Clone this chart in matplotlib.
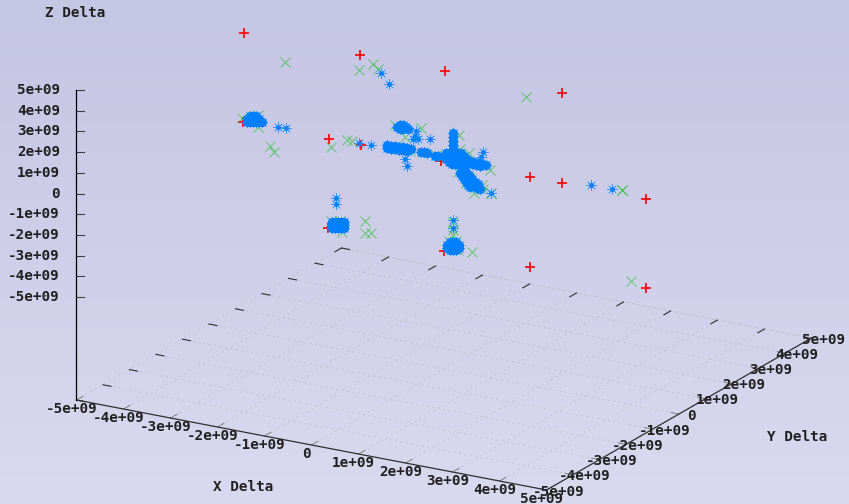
import numpy as np
import matplotlib
matplotlib.use("Agg")
import matplotlib.pyplot as plt

# All deltas are in units of 1e9. One view cannot give the depth of a point,
# so every point is read off at Y Delta = 0.
depth = 0.0

red_x = [-4.26, -1.79, 0.02, 2.51, -2.45, -1.77, 1.83, 2.51, 4.30, 1.83, 4.30,
         -4.28, -2.47, 0.00, -0.06]
red_z = [4.41, 4.42, 4.43, 4.45, 0.07, 0.08, 0.10, 0.10, 0.11, -4.25, -4.19,
         0.10, -4.24, -4.28, 0.04]

green_x = [-3.38, -1.81, -1.51, -1.40, 1.75, -3.70, -3.62, -2.40, -2.06, -1.96,
           3.79, 3.79, 3.98, -1.68, -1.68, -1.55, -2.17, 0.60, -1.04, -0.49,
           -0.83, 0.19, 0.19, 0.19, 1.00, 1.00, -3.96, -4.30, -3.96, 0.53, 0.34,
           0.30, -2.40, -2.21, 0.11, 0.26, 0.30, -0.72, -0.98, -0.45, -0.17,
           0.55, 0.81, 0.47, 0.64, 0.83, 0.98, 0.32]
green_z = [3.39, 3.68, 4.10, 3.91, 3.92, -0.81, -1.07, -0.29, 0.19, 0.19,
           0.32, 0.32, -4.00, -3.56, -4.14, -4.08, -4.30, -4.06, 1.36, 1.45,
           0.87, -2.79, -3.18, -3.42, -1.04, -1.04, 0.57, 0.28, 0.00, 0.69, 0.80,
           -0.33, -3.87, -3.79, -3.74, -3.68, -4.10, 0.24, 0.23, 0.31, 0.29,
           -0.51, -0.73, -0.79, -1.20, -0.92, 0.06, 1.47]

# Points that stand on their own
blue_lone_x = [-3.53, -3.36, -1.34, -1.17, -1.81, -1.55, -0.30, -0.60, -0.62, -0.66, -0.55,
               -0.83, -0.79, -2.30, -2.30, 0.83, 0.79, 1.00, 3.13, 3.57, 0.19, 0.19]
blue_lone_z = [0.18, 0.20, 3.74, 3.29, 0.15, 0.17, 1.00, 1.26, 1.01, 0.85, 0.89,
               -0.19, -0.51, -2.71, -3.00, 0.87, 0.61, -1.04, 0.28, 0.28, -2.70, -3.08]

# Points that pile up into solid patches
blue_x = [
    # cluster upper left
    -4.13, -4.06, -4.00,
    -4.19, -4.13, -4.06, -4.00, -3.94,
    -4.19, -4.13, -4.06, -4.00, -3.94, -3.87,
    # cluster lower left
    -2.38, -2.32, -2.26, -2.19, -2.13,
    -2.38, -2.32, -2.26, -2.19, -2.13,
    -2.38, -2.32, -2.26, -2.19, -2.13,
    # cluster lower middle
    0.13, 0.19, 0.26,
    0.06, 0.13, 0.19, 0.26, 0.32,
    0.06, 0.13, 0.19, 0.26, 0.32,
    0.13, 0.19, 0.26,
    # small cluster above the arm
    -1.00, -0.94, -0.87, -0.81, -0.94, -0.87, -0.77,
    # left arm
    -1.21, -1.21, -1.13, -1.13, -1.04, -1.04, -0.96, -0.96, -0.87, -0.87,
    -0.79, -0.79, -0.70, -0.49, -0.43, -0.36, -0.19, -0.13,
    # central body
    0.04, 0.11, 0.17, 0.23, 0.30, 0.36,
    0.04, 0.11, 0.17, 0.23, 0.30, 0.36, 0.43,
    0.04, 0.11, 0.17, 0.23, 0.30, 0.36, 0.43, 0.49,
    0.11, 0.17, 0.23, 0.30, 0.36, 0.43, 0.49,
    0.17, 0.23, 0.30, 0.36, 0.43,
    # upward arm
    0.19, 0.19, 0.19, 0.19, 0.19,
    # right arm
    0.55, 0.64, 0.72, 0.81, 0.89, 0.60, 0.68, 0.77,
    # lower arm
    0.38, 0.43, 0.47, 0.51, 0.55, 0.60, 0.64, 0.70, 0.77, 0.64, 0.70,
    0.45, 0.53, 0.60, 0.66, 0.72, 0.34, 0.38, 0.43, 0.47, 0.51, 0.55,
]
blue_z = [
    0.45, 0.48, 0.51,
    0.28, 0.31, 0.33, 0.36, 0.39,
    0.14, 0.16, 0.19, 0.22, 0.25, 0.27,
    -3.91, -3.88, -3.86, -3.83, -3.80,
    -4.05, -4.03, -4.00, -3.97, -3.94,
    -4.20, -4.17, -4.14, -4.12, -4.09,
    -3.79, -3.76, -3.73,
    -3.96, -3.93, -3.90, -3.87, -3.85,
    -4.10, -4.08, -4.05, -4.02, -3.99,
    -4.17, -4.14, -4.12,
    1.28, 1.41, 1.43, 1.36, 1.21, 1.24, 1.29,
    0.32, 0.17, 0.31, 0.16, 0.34, 0.20, 0.33, 0.19, 0.37, 0.22,
    0.36, 0.21, 0.35, 0.29, 0.32, 0.30, 0.23, 0.26,
    0.48, 0.51, 0.53, 0.56, 0.59, 0.62,
    0.33, 0.36, 0.39, 0.42, 0.44, 0.47, 0.50,
    0.19, 0.22, 0.24, 0.27, 0.30, 0.33, 0.35, 0.38,
    0.07, 0.10, 0.13, 0.15, 0.18, 0.21, 0.24,
    0.00, 0.03, 0.06, 0.09, 0.11,
    1.51, 1.31, 1.12, 0.93, 0.73,
    0.31, 0.30, 0.29, 0.28, 0.27, 0.19, 0.17, 0.16,
    -0.20, -0.32, -0.45, -0.57, -0.70, -0.78, -0.86, -0.93, -0.95, -0.71, -0.78,
    -0.17, -0.37, -0.54, -0.66, -0.72, -0.36, -0.49, -0.61, -0.74, -0.86, -0.94,
]

ticks = [-5, -4, -3, -2, -1, 0, 1, 2, 3, 4, 5]
tick_labels = ["-5e+09", "-4e+09", "-3e+09", "-2e+09", "-1e+09", "0",
               "1e+09", "2e+09", "3e+09", "4e+09", "5e+09"]


# Fixed gnuplot style view, returns canvas pixels
def project(x, y, z):
    x, y, z = np.asarray(x, float), np.asarray(y, float), np.asarray(z, float)
    sx = 76.5 + 47.0*(x + 5) + 26.5*(y + 5)
    sy = 297.0 + 9.0*(x + 5) - 15.2*(y + 5) - 20.7*(z + 5)
    return sx, sy


# The floor sits below z = -5
def floor(x, y):
    sx, sy = project(x, y, -5)
    return sx, sy + 103


fig = plt.figure(figsize=(8.49, 5.04), dpi=100)
ax = fig.add_axes([0, 0, 1, 1])
ax.set_xlim(0, 849)
ax.set_ylim(504, 0)
ax.axis("off")

# Background gradient
shade = np.linspace(0, 1, 256).reshape(-1, 1)
top, bottom = np.array([197, 197, 228]), np.array([217, 217, 239])
bg = (top + (bottom - top)*shade[..., None])/255
ax.imshow(bg, extent=(0, 849, 504, 0), aspect="auto", zorder=0)

grid_style = dict(color="#a8a8a8", lw=0.6, ls=(0, (1.5, 5)), alpha=0.7, zorder=1)
tick_style = dict(color="#303030", lw=0.8, zorder=2)
text_style = dict(family="DejaVu Sans Mono", weight="bold", fontsize=10.3,
                  ha="center", va="center", color="#202020", zorder=6)

# Floor grid and its ticks
for t in ticks:
    px, py = floor([t, t], [-5, 5])
    if t > -5:
        ax.plot(px, py, **grid_style)
    px, py = floor([-5, 5], [t, t])
    if t > -5:
        ax.plot(px, py, **grid_style)

    # front x ticks, back x ticks
    px, py = floor([t, t], [-5, -4.75])
    ax.plot(px, py, color="#777777", lw=0.6, zorder=2)
    px, py = floor([t, t], [4.75, 5])
    ax.plot(px, py, **tick_style)
    # left y ticks, right y ticks
    px, py = floor([-5, -4.83], [t, t])
    ax.plot(px, py, **tick_style)
    px, py = floor([4.83, 5], [t, t])
    ax.plot(px, py, color="#777777", lw=0.6, zorder=2)

    # Tick labels
    px, py = floor(t, -5)
    ax.text(px - 5, py + 9, tick_labels[t + 5], **text_style)
    px, py = floor(5, t)
    ax.text(px + 12, py + 1.5, tick_labels[t + 5], **text_style)
    px, py = project(-5, -5, t)
    ax.plot([px, px + 8], [py, py], color="#404040", lw=0.8, zorder=2)
    ax.text(60, py, tick_labels[t + 5], **{**text_style, "ha": "right"})

# Floor edges at the back
px, py = floor([-5, -5, 5], [-5, 5, 5])
ax.plot(px, py, **grid_style)

# Axis lines
px, py = floor([-5, 5, 5], [-5, -5, 5])
ax.plot(px, py, color="#303030", lw=0.9, zorder=2)
px, py = project(-5, -5, 5)
ax.plot([px, px], [py, floor(-5, -5)[1]], color="black", lw=0.9, zorder=2)

# Axis titles
for label, tx, ty in [("Z Delta", 75, 13), ("X Delta", 243, 487), ("Y Delta", 797, 437)]:
    ax.text(tx, ty, label, **text_style)

# Points
px, py = project(red_x, depth, red_z)
ax.plot(px, py, ls="none", marker="+", ms=7, mew=1.2, color="#ff0000", zorder=3)
px, py = project(green_x, depth, green_z)
ax.plot(px, py, ls="none", marker="x", ms=6.5, mew=0.7, color="#00c000", alpha=0.55, zorder=4)

px, py = project(blue_lone_x, depth, blue_lone_z)
ax.plot(px, py, ls="none", marker=(8, 2, 0), ms=7.5, mew=0.5, color="#3399ff", zorder=5)
ax.plot(px, py, ls="none", marker="o", ms=3.4, mew=0, color="#0080ff", zorder=5)

px, py = project(blue_x, depth, blue_z)
ax.plot(px, py, ls="none", marker=(8, 2, 0), ms=8, mew=0.5, color="#3399ff", zorder=5)
ax.plot(px, py, ls="none", marker="o", ms=6.5, mew=0, color="#0080ff", zorder=5)

fig.savefig("out.png", dpi=100)
